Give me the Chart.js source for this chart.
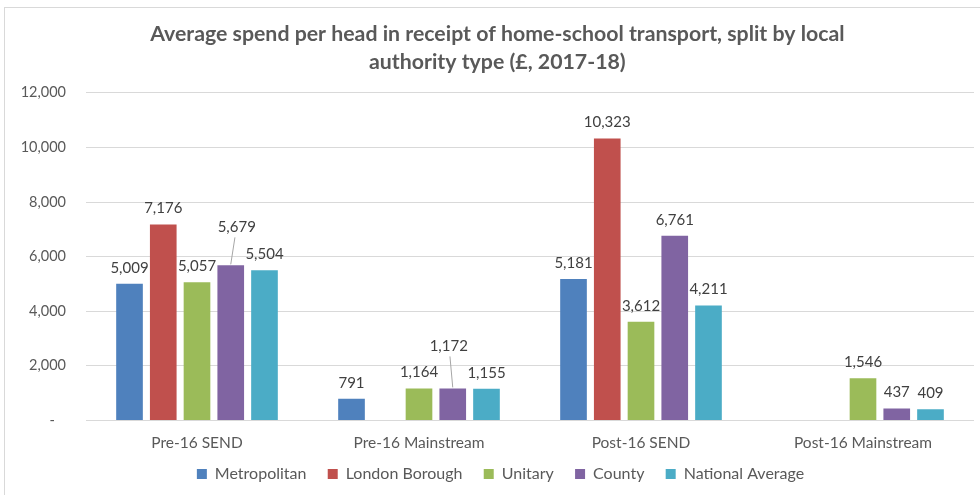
<!DOCTYPE html>
<html>
<head>
<meta charset="utf-8">
<script src="https://cdn.jsdelivr.net/npm/chart.js@4.4.1/dist/chart.umd.min.js"></script>
<style>
    html, body { margin: 0; padding: 0; background: #fff; }
    #frame { position: absolute; left: 4px; top: 7px; width: 990px; height: 500px; border: 1px solid #d9d9d9; }
    #box { position: absolute; left: 0; top: 0; width: 980px; height: 495px; }
</style>
</head>
<body>
<div id="frame"></div>
<div id="box"><canvas id="chart"></canvas></div>
<script>
// Chart data
const categories = ['Pre-16 SEND', 'Pre-16 Mainstream', 'Post-16 SEND', 'Post-16 Mainstream'];
const metropolitan = [5009, 791, 5181, null];
const londonBorough = [7176, null, 10323, null];
const unitary = [5057, 1164, 3612, 1546];
const county = [5679, 1172, 6761, 437];
const nationalAverage = [5504, 1155, 4211, 409];
const yTicks = [0, 2000, 4000, 6000, 8000, 10000, 12000];

const FONT = 'Lato, "Open Sans", sans-serif';
const TEXT = '#595959';

// labels that Excel pushed up with a leader line: [dataset, index] -> extra lift
const liftedLabels = { '3-0': { dy: 22, dx: 6 }, '3-1': { dy: 26, dx: -4 } };

const fmt = v => v.toLocaleString('en-US');

const valueLabels = {
    id: 'valueLabels',
    afterDatasetsDraw(chart) {
        const ctx = chart.ctx;
        ctx.save();
        ctx.font = '15px ' + FONT;
        ctx.fillStyle = '#404040';
        ctx.textAlign = 'center';
        ctx.textBaseline = 'middle';
        chart.data.datasets.forEach((ds, di) => {
            const meta = chart.getDatasetMeta(di);
            meta.data.forEach((bar, i) => {
                const v = ds.data[i];
                if (v === null || v === undefined) return;
                const lift = liftedLabels[di + '-' + i];
                let x = bar.x, y = bar.y - 16;
                if (lift) {
                    x += lift.dx;
                    y -= lift.dy;
                    ctx.strokeStyle = '#a6a6a6';
                    ctx.lineWidth = 1;
                    ctx.beginPath();
                    ctx.moveTo(bar.x, bar.y - 1);
                    ctx.lineTo(x - lift.dx * 0.3, y + 10);
                    ctx.stroke();
                }
                ctx.fillText(fmt(v), x, y);
            });
        });
        ctx.restore();
    }
};

const makeSet = (label, data, color) => ({
    label, data,
    backgroundColor: color,
    borderWidth: 0,
    barPercentage: 0.79,
    categoryPercentage: 0.76
});

// legend: a bit of room after each name, and an empty slot in front
// so the row sits a little right of centre as in the Excel chart
function legendItems(chart) {
    const items = Chart.defaults.plugins.legend.labels.generateLabels(chart);
    const out = items.map((item, i) => ({ ...item, text: i < items.length - 1 ? item.text + '   ' : item.text }));
    out.unshift({ text: '', fillStyle: 'rgba(0,0,0,0)', strokeStyle: 'rgba(0,0,0,0)', lineWidth: 0, hidden: false, datasetIndex: -1 });
    return out;
}

new Chart(document.getElementById('chart'), {
    type: 'bar',
    data: {
        labels: categories,
        datasets: [
            makeSet('Metropolitan', metropolitan, '#4f81bd'),
            makeSet('London Borough', londonBorough, '#c0504d'),
            makeSet('Unitary', unitary, '#9bbb59'),
            makeSet('County', county, '#8064a2'),
            makeSet('National Average', nationalAverage, '#4bacc6')
        ]
    },
    options: {
        responsive: true,
        maintainAspectRatio: false,
        animation: false,
        layout: { padding: { left: 0, right: 6, top: 20, bottom: 3 } },
        plugins: {
            title: {
                display: true,
                text: ['    Average spend per head in receipt of home-school transport, split by local', '    authority type (£, 2017-18)'],
                color: TEXT,
                font: { family: FONT, size: 21.3, weight: 'bold', lineHeight: 1.31 },
                padding: { top: 0, bottom: 17 }
            },
            legend: {
                position: 'bottom',
                labels: {
                    color: TEXT,
                    font: { family: FONT, size: 16 },
                    boxWidth: 10,
                    boxHeight: 10,
                    padding: 9,
                    generateLabels: legendItems
                }
            },
            tooltip: { enabled: false }
        },
        scales: {
            x: {
                grid: { display: false },
                border: { display: false },
                ticks: { color: TEXT, font: { family: FONT, size: 15.5 }, padding: 5 }
            },
            y: {
                min: 0,
                max: 12000,
                afterBuildTicks: axis => { axis.ticks = yTicks.map(v => ({ value: v })); },
                afterFit: axis => { axis.width = 86; },
                grid: { color: '#d9d9d9', lineWidth: 1, drawTicks: false },
                border: { display: false },
                ticks: {
                    color: TEXT,
                    font: { family: FONT, size: 14.5 },
                    padding: 20,
                    callback: v => v === 0 ? '-   ' : fmt(v)
                }
            }
        }
    },
    plugins: [valueLabels]
});
</script>
</body>
</html>
